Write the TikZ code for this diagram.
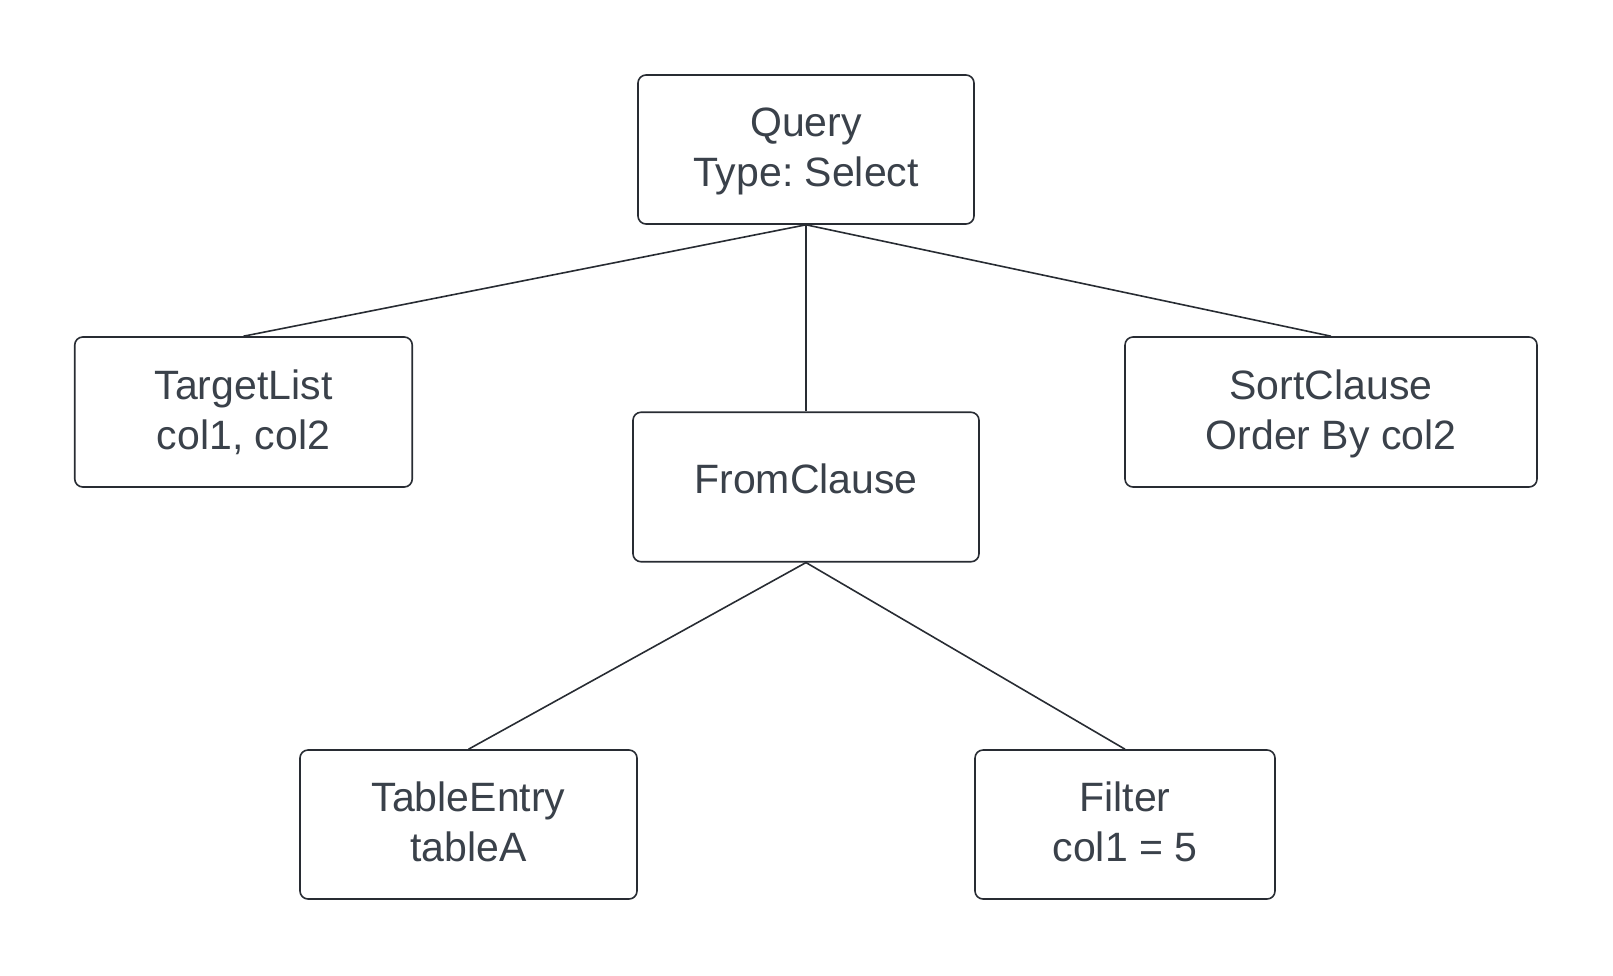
\documentclass[tikz,border=0pt]{standalone}
\usepackage{fontspec}
\setmainfont{Liberation Sans}
\frenchspacing
\definecolor{ink}{HTML}{3A414A}
\definecolor{edge}{HTML}{282C33}
\newcommand\twoL[2]{\rule[-10pt]{0pt}{44pt}#1\\\rule[-10pt]{0pt}{44pt}#2}
\newcommand\oneL[1]{\rule[-20pt]{0pt}{52pt}#1}
\begin{document}
\begin{tikzpicture}[x=1pt,y=-1pt,
  box/.style={draw=edge,line width=1.6pt,rounded corners=8pt,fill=white,
    text=ink,align=center,inner sep=0pt,
    font=\fontsize{41}{50}\selectfont},
  conn/.style={draw=edge,line width=1.6pt}]
\useasboundingbox (0,0) rectangle (1613,975);
\node[box,minimum width=336pt,minimum height=149pt] (q) at (806,149.5) {\twoL{Query}{Type: Select}};
\node[box,minimum width=337.5pt,minimum height=150pt] (tl) at (243.5,412) {\twoL{TargetList}{col1, col2}};
\node[box,minimum width=346pt,minimum height=149.5pt] (fc) at (806,487) {\oneL{FromClause}};
\node[box,minimum width=412pt,minimum height=150pt] (sc) at (1331,412) {\twoL{SortClause}{Order By col2}};
\node[box,minimum width=337pt,minimum height=149pt] (te) at (468.5,824.5) {\twoL{TableEntry}{tableA}};
\node[box,minimum width=300pt,minimum height=149pt] (fi) at (1125,824.5) {\twoL{Filter}{col1 = 5}};
\draw[conn] (q.south) -- (tl.north);
\draw[conn] (q.south) -- (fc.north);
\draw[conn] (q.south) -- (sc.north);
\draw[conn] (fc.south) -- (te.north);
\draw[conn] (fc.south) -- (fi.north);
\end{tikzpicture}
\end{document}
